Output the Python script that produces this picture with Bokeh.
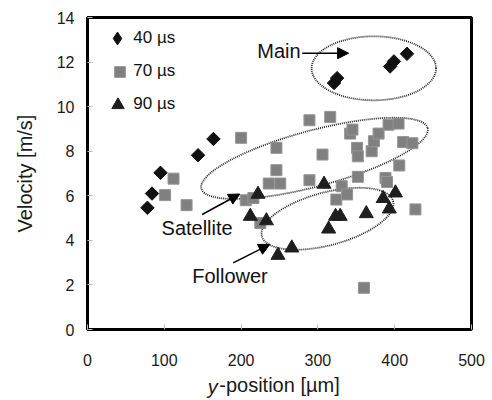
from math import pi, radians
from bokeh.plotting import figure
from bokeh.models import Legend, LegendItem, Label, Arrow, NormalHead, LinearAxis, FixedTicker
from bokeh.embed import file_html
from bokeh.resources import INLINE

FONT = "Liberation Sans"

# ---- data ----
x40 = [78, 84, 95, 144, 164, 321, 325, 394, 399, 416]
v40 = [5.46, 6.10, 7.03, 7.82, 8.55, 11.06, 11.28, 11.8, 12.03, 12.37]

x70 = [101, 112, 129, 200, 206, 216, 225, 236, 251, 246, 246, 289, 289, 306, 316,
       324, 331, 338, 342, 345, 351, 352, 352, 370, 373, 379, 392, 405, 411, 423,
       406, 388, 390, 360, 427]
v70 = [6.03, 6.77, 5.58, 8.6, 5.8, 5.9, 4.78, 6.55, 6.55, 7.15, 8.15, 9.39, 6.70, 7.85, 9.54,
       5.83, 6.43, 6.06, 8.79, 8.97, 8.15, 7.77, 6.85, 8.0, 8.45, 8.79, 9.19, 9.24, 8.41, 8.36,
       7.36, 6.8, 6.62, 1.87, 5.39]

x90 = [212, 222, 233, 248, 266, 308, 314, 323, 329, 363, 385, 393, 401]
v90 = [5.08, 6.07, 4.88, 3.33, 3.66, 6.52, 4.51, 5.08, 5.08, 5.2, 5.88, 5.41, 6.13]

series_labels = ["40 µs", "70 µs", "90 µs"]

x_ticks = [0, 100, 200, 300, 400, 500]
y_ticks = [0, 2, 4, 6, 8, 10, 12, 14]

# x-axis title parts: italic variable letter + rest
x_title_var = "y"
x_title_var_pos = 163
x_title_rest = "-position [µm]"

# grouping ellipses (Main, Satellite, Follower)
ell_x = [372.8, 295.6, 312.5]
ell_y = [11.72, 7.68, 4.97]
ell_w = [162, 305, 177]
ell_h = [2.87, 2.51, 2.37]
ell_angle_deg = [0, 15, 15]

# annotation texts and arrows
ann_text = ["Main", "Satellite", "Follower"]
ann_x = [221, 96.4, 136.3]
ann_y = [12.48, 4.55, 2.39]
arrow_x0 = [279.5, 149.3, 189.7]
arrow_y0 = [12.4, 5.16, 2.99]
arrow_x1 = [340, 198.3, 237.4]
arrow_y1 = [12.4, 6.08, 3.82]

p = figure(width=492, height=400, x_range=(0, 500), y_range=(0, 14),
           output_backend="svg", toolbar_location=None,
           min_border_left=87, min_border_right=21, min_border_top=17, min_border_bottom=71)

p.grid.visible = False
p.outline_line_color = "black"
p.outline_line_width = 3
p.outline_line_alpha = 1.0
p.background_fill_color = "white"
p.border_fill_color = "white"

for ax in (p.xaxis[0], p.yaxis[0]):
    ax.axis_line_color = None
    ax.major_tick_in = 5
    ax.major_tick_out = 0
    ax.major_tick_line_color = "#b8b8b8"
    ax.minor_tick_line_color = None
    ax.major_label_text_font = FONT
    ax.major_label_text_font_size = "16px"
    ax.major_label_text_color = "#1a1a1a"
    ax.axis_label_text_font = FONT
    ax.axis_label_text_font_size = "20px"
    ax.axis_label_text_font_style = "normal"
    ax.axis_label_text_color = "#1a1a1a"

p.xaxis.ticker = x_ticks
p.yaxis.ticker = y_ticks
p.xaxis.major_label_standoff = 24
p.yaxis.major_label_standoff = 13

p.yaxis.axis_label = "Velocity [m/s]"
p.yaxis.axis_label_standoff = 18

p.xaxis.axis_label = x_title_rest
p.xaxis.axis_label_standoff = 5

# second (label-only) axis carrying the italic variable letter of the x title
xvar = LinearAxis(ticker=FixedTicker(ticks=[x_title_var_pos]),
                  major_label_overrides={x_title_var_pos: x_title_var},
                  axis_line_color=None, major_tick_line_color=None, minor_tick_line_color=None,
                  major_tick_in=0, major_tick_out=0, major_label_standoff=-23,
                  major_label_text_font=FONT, major_label_text_font_size="20px",
                  major_label_text_font_style="italic", major_label_text_color="#1a1a1a")
p.add_layout(xvar, "below")

# ellipses
p.ellipse(x=ell_x, y=ell_y, width=ell_w, height=ell_h,
          angle=[radians(a) for a in ell_angle_deg],
          fill_color=None, line_color="#222222", line_width=1.8, line_dash="1 1")

r70 = p.scatter(x70, v70, marker="square", size=11, fill_color="#808080", line_color="#959595", line_width=1)
r90 = p.scatter(x90, v90, marker="triangle", size=14, fill_color="#1e1e1e", line_color="#1e1e1e")
# diamond-shaped legend key for the 40 µs series: tiny, fully hidden under the data marks below
r40_key = p.scatter(x40, v40, marker="diamond", size=4, fill_color="#111111", line_color="#111111")
r40 = p.scatter(x40, v40, marker="square", angle=pi / 4, size=9.5,
                fill_color="#111111", line_color="#111111")

# arrows and annotation texts
for i in range(3):
    p.add_layout(Arrow(end=NormalHead(size=11, fill_color="black", line_color="black"),
                       x_start=arrow_x0[i], y_start=arrow_y0[i],
                       x_end=arrow_x1[i], y_end=arrow_y1[i],
                       line_width=1.5, line_color="black"))
    p.add_layout(Label(x=ann_x[i], y=ann_y[i], text=ann_text[i], text_font=FONT,
                       text_font_size="20px", text_baseline="middle", text_color="#111111"))

# one legend per series so each key gets its own size; all labels start at the same x
key_box = [32, 27, 31]            # legend key box (px); marker size = 0.4 * box
row_center = [38.3, 71.0, 104.3]  # px from top of the picture
key_renderers = [r40_key, r70, r90]
frame_bottom_px = 329
label_start_from_frame = 46.3
for lab, rend, g, yc in zip(series_labels, key_renderers, key_box, row_center):
    leg = Legend(items=[LegendItem(label=lab, renderers=[rend])],
                 location=(label_start_from_frame - g, frame_bottom_px - yc - g / 2),
                 orientation="vertical", padding=0, margin=0, spacing=0,
                 glyph_width=g, glyph_height=g, label_height=g, label_standoff=0,
                 label_text_font=FONT, label_text_font_size="17px", label_text_color="#111111",
                 border_line_color=None, background_fill_alpha=0)
    p.add_layout(leg)

open("out.html", "w").write(file_html(p, INLINE))
